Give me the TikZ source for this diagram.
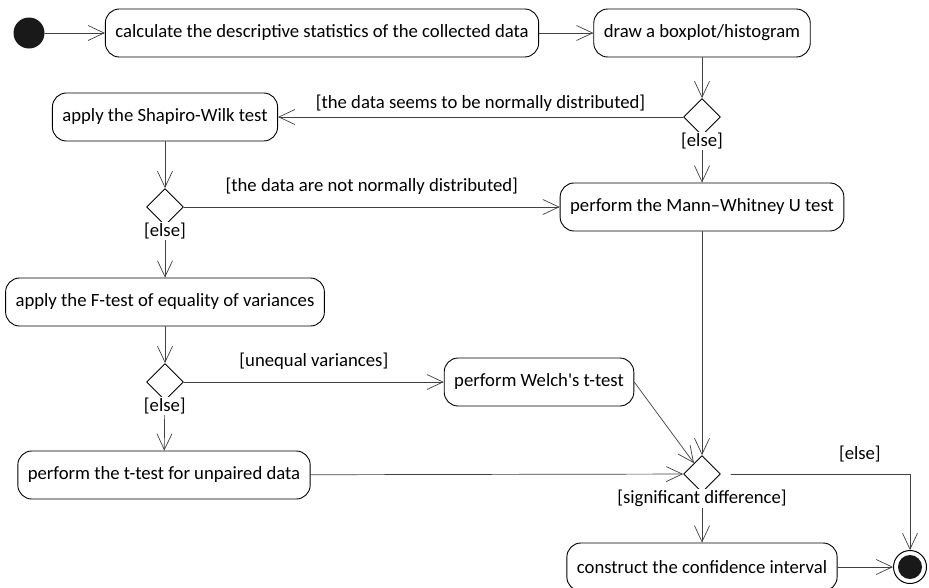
\documentclass[tikz,border=0pt]{standalone}
\usepackage{fontspec}
\setmainfont{Carlito}[Ligatures=TeXOff]
\usetikzlibrary{arrows.meta,shapes.geometric}
\tikzset{
  act/.style={draw,rounded corners=14pt,line width=0.9pt,minimum height=48pt,inner xsep=10pt},
  decision/.style={draw,diamond,aspect=1,minimum width=37pt,minimum height=37pt,inner sep=0pt,line width=0.9pt},
  guard/.style={inner sep=1pt},
  elseguard/.style={pos=0,anchor=north,yshift=4pt,fill=white,inner sep=1pt},
  flow/.style={draw=black!75,line width=0.7pt,->}
}
\begin{document}
\begin{tikzpicture}[x=1pt,y=-1pt,>={Straight Barb[length=16pt,width=15pt]},line join=round,line cap=round,font=\fontsize{18.7}{22}\selectfont]
\useasboundingbox (0,0) rectangle (929,587);
% activities
\node[circle,fill=black!90,minimum size=31pt,inner sep=0pt] (start) at (29,33) {};
\node[act] (calc) at (322,33) {calculate the descriptive statistics of the collected data};
\node[act] (plot) at (702,33) {draw a boxplot/histogram};
\node[decision] (normq) at (702,117) {};
\node[act] (shapiro) at (165,117) {apply the Shapiro-Wilk test};
\node[decision] (swq) at (165,207) {};
\node[act] (mann) at (702,207) {perform the Mann–Whitney U test};
\node[act] (ftest) at (165,302) {apply the F-test of equality of variances};
\node[decision] (varq) at (165,382) {};
\node[act] (welch) at (539,382) {perform Welch's t-test};
\node[act] (ttest) at (164,475) {perform the t-test for unpaired data};
\node[decision] (sigq) at (702,474) {};
\node[act] (conf) at (702,567) {construct the confidence interval};
\node[circle,draw,line width=1pt,minimum size=33pt,inner sep=0pt] (final) at (910,567) {};
\fill[black!90] (final) circle (12);
% control flow
\draw[flow] (start) -- (calc);
\draw[flow] (calc) -- (plot);
\draw[flow] (plot) -- (normq);
\draw[flow] (normq) -- node[guard,above=4pt]{[the data seems to be normally distributed]} (shapiro);
\draw[flow] (normq) -- node[elseguard]{[else]} (mann);
\draw[flow] (shapiro) -- (swq);
\draw[flow] (swq) -- node[guard,above=11pt]{[the data are not normally distributed]} (mann);
\draw[flow] (swq) -- node[elseguard]{[else]} (ftest);
\draw[flow] (ftest) -- (varq);
\draw[flow] (varq) -- node[guard,above=11pt]{[unequal variances]} (welch);
\draw[flow] (varq) -- node[elseguard]{[else]} (ttest);
\draw[flow] (mann) -- (sigq);
\draw[flow] (welch.east) -- (sigq);
\draw[flow] (ttest) -- (sigq);
\draw[flow] (sigq) -- node[elseguard]{[significant difference]} (conf);
\draw[flow] ([xshift=10pt]sigq.east) -| node[guard,above=11pt,pos=.36]{[else]} (final);
\draw[flow] (conf) -- (final);
\end{tikzpicture}
\end{document}
